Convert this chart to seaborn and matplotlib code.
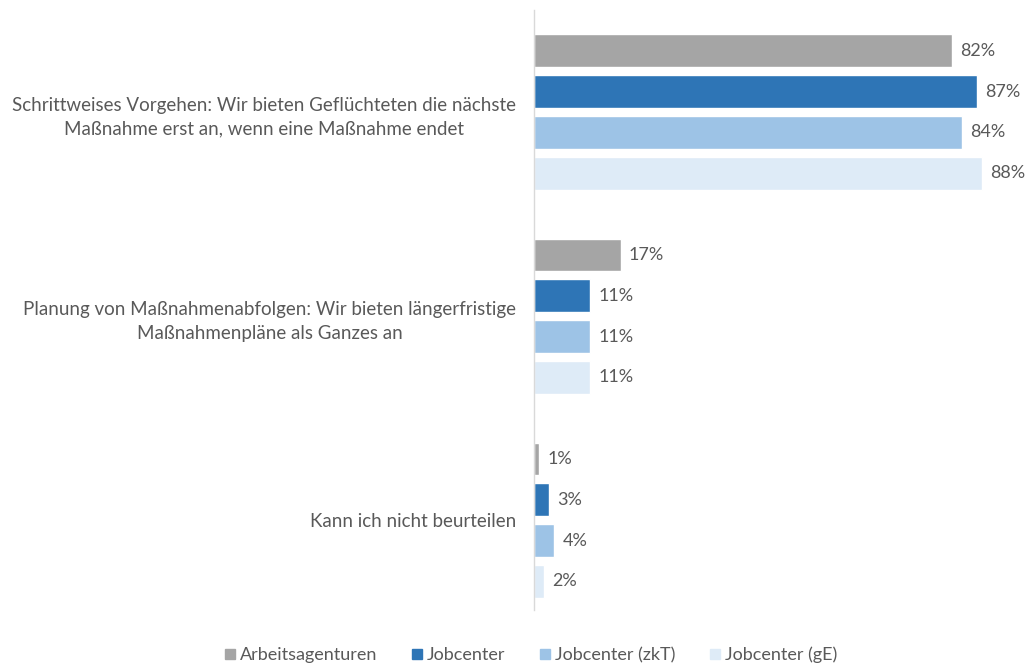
import matplotlib
matplotlib.use("Agg")
import matplotlib.pyplot as plt
import seaborn as sns
import pandas as pd
from matplotlib.lines import Line2D

categories = [
    "Schrittweises Vorgehen: Wir bieten Geflüchteten die nächste\nMaßnahme erst an, wenn eine Maßnahme endet",
    "Planung von Maßnahmenabfolgen: Wir bieten längerfristige\nMaßnahmenpläne als Ganzes an",
    "Kann ich nicht beurteilen",
]
series = ["Arbeitsagenturen", "Jobcenter", "Jobcenter (zkT)", "Jobcenter (gE)"]
arbeitsagenturen = [82, 17, 1]
jobcenter = [87, 11, 3]
jobcenter_zkt = [84, 11, 4]
jobcenter_ge = [88, 11, 2]
colors = ["#A5A5A5", "#2E75B6", "#9DC3E6", "#DEEBF7"]

values = [arbeitsagenturen, jobcenter, jobcenter_zkt, jobcenter_ge]
rows = []
for s, vals in zip(series, values):
    for c, v in zip(categories, vals):
        rows.append({"Kategorie": c, "Gruppe": s, "Wert": v})
df = pd.DataFrame(rows)

sns.set_theme(style="white")
plt.rcParams["font.family"] = ["Lato", "DejaVu Sans"]
text_color = "#595959"
fs = 13.5

fig = plt.figure(figsize=(10.27, 6.65), dpi=100)
ax = fig.add_axes([534 / 1027, 1 - 610 / 665, (1027 - 534) / 1027, 600 / 665])

sns.barplot(data=df, y="Kategorie", x="Wert", hue="Gruppe", order=categories,
            hue_order=series, palette=colors, orient="h", width=0.8, gap=0.2,
            saturation=1, legend=False, ax=ax)

for cont in ax.containers:
    ax.bar_label(cont, fmt="%d%%", padding=6, fontsize=13, color=text_color)

ax.set_xlim(0, 96.8)
ax.set_ylim(2.44, -0.5)
ax.set_xlabel("")
ax.set_ylabel("")
ax.set_xticks([])
for sp in ["top", "right", "bottom"]:
    ax.spines[sp].set_visible(False)
ax.spines["left"].set_color("#D9D9D9")
ax.spines["left"].set_linewidth(1)
ax.tick_params(axis="y", length=0, pad=13)
for lbl in ax.get_yticklabels():
    lbl.set_multialignment("center")
    lbl.set_linespacing(1.5)
    lbl.set_fontsize(fs)
    lbl.set_color(text_color)

handles = [Line2D([0], [0], marker="s", linestyle="", markersize=7.5,
                  markerfacecolor=c, markeredgecolor=c) for c in colors]
fig.legend(handles, series, loc="center", bbox_to_anchor=(530 / 1027, 1 - 655 / 665),
           ncol=4, frameon=False, fontsize=13, labelcolor=text_color,
           handletextpad=0.15, columnspacing=1.8, handlelength=0.8)

fig.savefig("out.png", dpi=100, facecolor="white")
